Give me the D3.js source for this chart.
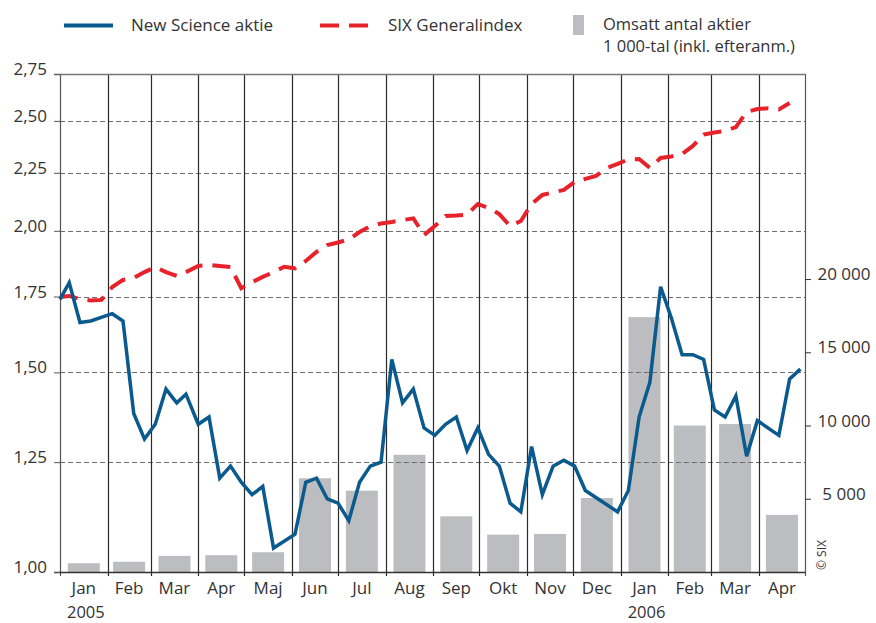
<!DOCTYPE html>
<html>
<head>
<meta charset="utf-8">
<script src="https://cdn.jsdelivr.net/npm/d3@7"></script>
<style>
body { margin: 0; background: #fff; }
text { font-family: "Open Sans", sans-serif; fill: #333; }
</style>
</head>
<body>
<div id="chart"></div>
<script>
// data
const monthLabels = ["Jan","Feb","Mar","Apr","Maj","Jun","Jul","Aug","Sep","Okt","Nov","Dec","Jan","Feb","Mar","Apr"];
const yearLabels = ["2005", "2006"];
const volume = [600, 700, 1100, 1150, 1350, 6400, 5550, 8000, 3800, 2550, 2600, 5050, 17400, 10000, 10100, 3900];

const stockDates = ["2005-01-01","2005-01-07","2005-01-14","2005-01-21","2005-02-04","2005-02-11","2005-02-18","2005-02-25",
  "2005-03-04","2005-03-11","2005-03-18","2005-03-24","2005-04-01","2005-04-08","2005-04-15","2005-04-22","2005-04-29",
  "2005-05-06","2005-05-13","2005-05-20","2005-06-03","2005-06-10","2005-06-17","2005-06-24","2005-07-01","2005-07-08",
  "2005-07-15","2005-07-22","2005-07-29","2005-08-05","2005-08-12","2005-08-19","2005-08-26","2005-09-02","2005-09-09",
  "2005-09-16","2005-09-23","2005-09-30","2005-10-07","2005-10-14","2005-10-21","2005-10-28","2005-11-04","2005-11-11",
  "2005-11-18","2005-11-25","2005-12-02","2005-12-09","2005-12-30","2006-01-06","2006-01-13","2006-01-20","2006-01-27",
  "2006-02-03","2006-02-10","2006-02-17","2006-02-24","2006-03-03","2006-03-10","2006-03-17","2006-03-24","2006-03-31",
  "2006-04-14","2006-04-21","2006-04-28"];
const stockValues = [1.74, 1.80, 1.66, 1.665, 1.69, 1.665, 1.38, 1.31,
  1.35, 1.45, 1.41, 1.435, 1.35, 1.37, 1.21, 1.24, 1.20,
  1.17, 1.19, 1.05, 1.08, 1.20, 1.21, 1.16, 1.15, 1.11,
  1.20, 1.24, 1.25, 1.54, 1.41, 1.45, 1.34, 1.32, 1.35,
  1.37, 1.28, 1.34, 1.27, 1.24, 1.15, 1.13, 1.29, 1.17,
  1.24, 1.255, 1.24, 1.18, 1.13, 1.18, 1.37, 1.47, 1.785,
  1.675, 1.555, 1.555, 1.54, 1.39, 1.37, 1.43, 1.265, 1.36,
  1.32, 1.48, 1.51];

const indexDates = ["2005-01-01","2005-01-07","2005-01-14","2005-01-21","2005-01-28","2005-02-04","2005-02-11","2005-02-18",
  "2005-02-25","2005-03-04","2005-03-11","2005-03-18","2005-03-24","2005-04-01","2005-04-08","2005-04-15","2005-04-22",
  "2005-04-29","2005-05-06","2005-05-13","2005-05-20","2005-05-27","2005-06-03","2005-06-10","2005-06-17","2005-06-24",
  "2005-07-01","2005-07-08","2005-07-15","2005-07-22","2005-07-29","2005-08-05","2005-08-12","2005-08-19","2005-08-26",
  "2005-09-02","2005-09-09","2005-09-16","2005-09-23","2005-09-30","2005-10-07","2005-10-14","2005-10-21","2005-10-28",
  "2005-11-04","2005-11-11","2005-11-18","2005-11-25","2005-12-02","2005-12-09","2005-12-16","2005-12-23","2005-12-30",
  "2006-01-06","2006-01-13","2006-01-20","2006-01-27","2006-02-03","2006-02-10","2006-02-17","2006-02-24","2006-03-03",
  "2006-03-10","2006-03-17","2006-03-24","2006-03-31","2006-04-07","2006-04-14","2006-04-21"];
const indexValues = [1.748, 1.752, 1.741, 1.736, 1.738, 1.784, 1.810, 1.817,
  1.839, 1.858, 1.839, 1.825, 1.839, 1.862, 1.866, 1.862, 1.858,
  1.780, 1.802, 1.821, 1.839, 1.859, 1.853, 1.881, 1.916, 1.943,
  1.953, 1.965, 1.995, 2.019, 2.030, 2.036, 2.044, 2.051, 1.983,
  2.019, 2.061, 2.063, 2.067, 2.112, 2.095, 2.069, 2.019, 2.040,
  2.112, 2.151, 2.162, 2.173, 2.208, 2.222, 2.236, 2.272, 2.291,
  2.312, 2.314, 2.272, 2.319, 2.326, 2.338, 2.376, 2.432, 2.442,
  2.449, 2.469, 2.546, 2.561, 2.565, 2.559, 2.593];

const leftTicks = [1.00, 1.25, 1.50, 1.75, 2.00, 2.25, 2.50, 2.75];
const rightTicks = [5000, 10000, 15000, 20000];

function render_chart(div) {
    let w = 876, h = 623;
    let left = 60, right = 805, top = 74, bottom = 572;

    let parse = d3.timeParse("%Y-%m-%d");
    let se = d3.formatLocale({decimal: ",", thousands: " ", grouping: [3], currency: ["", " kr"]});

    let start = new Date(2005, 0, 1), end = new Date(2006, 4, 1);
    let x = d3.scaleTime().domain([start, end]).range([left, right]);
    let y = d3.scaleLog().domain([1, 2.75]).range([bottom, top]);
    let yR = d3.scaleLinear().domain([0, 34000]).range([bottom, top]);

    let months = d3.timeMonth.range(start, end);

    let svg = d3.select("#" + div)
        .append("svg")
        .attr("width", w)
        .attr("height", h);

    // bars
    svg.selectAll(".bar")
        .data(months)
        .enter()
        .append("rect")
        .attr("class", "bar")
        .attr("x", function(d) { return (x(d) + x(d3.timeMonth.offset(d, 1))) / 2 - 16; })
        .attr("width", 32)
        .attr("y", function(d, i) { return yR(volume[i]); })
        .attr("height", function(d, i) { return bottom - yR(volume[i]); })
        .style("fill", "#bcbdc0");

    // horizontal dashed grid
    svg.selectAll(".grid")
        .data(leftTicks.slice(1, -1))
        .enter()
        .append("line")
        .attr("x1", left).attr("x2", right)
        .attr("y1", function(d) { return Math.round(y(d)) + 0.5; })
        .attr("y2", function(d) { return Math.round(y(d)) + 0.5; })
        .style("stroke", "#6e6e6e")
        .style("stroke-width", 1.2)
        .style("stroke-dasharray", "5,3");

    // month boundaries
    let bounds = months.concat([end]);
    svg.selectAll(".vline")
        .data(bounds)
        .enter()
        .append("line")
        .attr("x1", function(d) { return Math.round(x(d)) + 0.5; })
        .attr("x2", function(d) { return Math.round(x(d)) + 0.5; })
        .attr("y1", top)
        .attr("y2", bottom + 4)
        .style("stroke", function(d, i) { return (i == 0 || i == bounds.length - 1) ? "#555" : "#2a2a2a"; })
        .style("stroke-width", 1.2);

    // frame top / bottom
    svg.append("line")
        .attr("x1", left - 6).attr("x2", right)
        .attr("y1", y(2.75) + 0.5).attr("y2", y(2.75) + 0.5)
        .style("stroke", "#777").style("stroke-width", 1.5);
    svg.append("line")
        .attr("x1", left - 6).attr("x2", right)
        .attr("y1", y(1) + 0.5).attr("y2", y(1) + 0.5)
        .style("stroke", "#333").style("stroke-width", 1.5);

    // left axis ticks + labels
    let fmtL = se.format(".2f");
    let ly = svg.selectAll(".ltick")
        .data(leftTicks)
        .enter()
        .append("g")
        .attr("transform", function(d) { return "translate(0," + y(d) + ")"; });
    ly.append("line")
        .attr("x1", left - 6).attr("x2", left)
        .attr("y1", 0.5).attr("y2", 0.5)
        .style("stroke", "#555");
    ly.append("text")
        .attr("x", 47)
        .attr("y", 1)
        .attr("text-anchor", "end")
        .style("font-size", "17px")
        .text(fmtL);

    // right axis
    let fmtR = se.format(",d");
    let ry = svg.selectAll(".rtick")
        .data(rightTicks)
        .enter()
        .append("g")
        .attr("transform", function(d) { return "translate(0," + yR(d) + ")"; });
    ry.append("line")
        .attr("x1", right).attr("x2", right + 6)
        .attr("y1", 0.5).attr("y2", 0.5)
        .style("stroke", "#333");
    ry.append("text")
        .attr("x", 844)
        .attr("y", 1)
        .attr("text-anchor", "middle")
        .style("font-size", "17px")
        .text(fmtR);

    // month labels
    svg.selectAll(".mlabel")
        .data(months)
        .enter()
        .append("text")
        .attr("x", function(d) { return (x(d) + x(d3.timeMonth.offset(d, 1))) / 2; })
        .attr("y", 594)
        .attr("text-anchor", "middle")
        .style("font-size", "17px")
        .text(function(d, i) { return monthLabels[i]; });

    svg.selectAll(".ylabel")
        .data([new Date(2005, 0, 1), new Date(2006, 0, 1)])
        .enter()
        .append("text")
        .attr("x", function(d) { return x(d) + 7; })
        .attr("y", 618)
        .style("font-size", "16.5px")
        .text(function(d, i) { return yearLabels[i]; });

    // lines
    let stock = stockDates.map(function(d, i) { return {date: parse(d), value: stockValues[i]}; });
    let index = indexDates.map(function(d, i) { return {date: parse(d), value: indexValues[i]}; });
    let line = d3.line()
        .x(function(d) { return x(d.date); })
        .y(function(d) { return y(d.value); });

    svg.append("path")
        .datum(index)
        .attr("d", line)
        .style("fill", "none")
        .style("stroke", "#e8222b")
        .style("stroke-width", 4)
        .style("stroke-dasharray", "18,10");

    svg.append("path")
        .datum(stock)
        .attr("d", line)
        .style("fill", "none")
        .style("stroke", "#0b5a8e")
        .style("stroke-width", 3.5)
        .style("stroke-linejoin", "miter");

    // legend
    svg.append("line")
        .attr("x1", 64).attr("x2", 113).attr("y1", 25.5).attr("y2", 25.5)
        .style("stroke", "#0b5a8e").style("stroke-width", 4);
    svg.append("text").attr("x", 131).attr("y", 31).style("font-size", "17px").text("New Science aktie");

    svg.append("line")
        .attr("x1", 320).attr("x2", 369).attr("y1", 25.5).attr("y2", 25.5)
        .style("stroke", "#e8222b").style("stroke-width", 4)
        .style("stroke-dasharray", "19,10");
    svg.append("text").attr("x", 388).attr("y", 31).style("font-size", "17px").text("SIX Generalindex");

    svg.append("rect")
        .attr("x", 573).attr("y", 15).attr("width", 11).attr("height", 20)
        .style("fill", "#bcbdc0");
    svg.append("text").attr("x", 603).attr("y", 29.5).style("font-size", "16.5px").text("Omsatt antal aktier");
    svg.append("text").attr("x", 603).attr("y", 52).style("font-size", "16.5px").text("1 000-tal (inkl. efteranm.)");

    svg.append("text")
        .attr("transform", "translate(826,570) rotate(-90)")
        .style("font-size", "12px")
        .text("© SIX");
}

render_chart("chart");
</script>
</body>
</html>
